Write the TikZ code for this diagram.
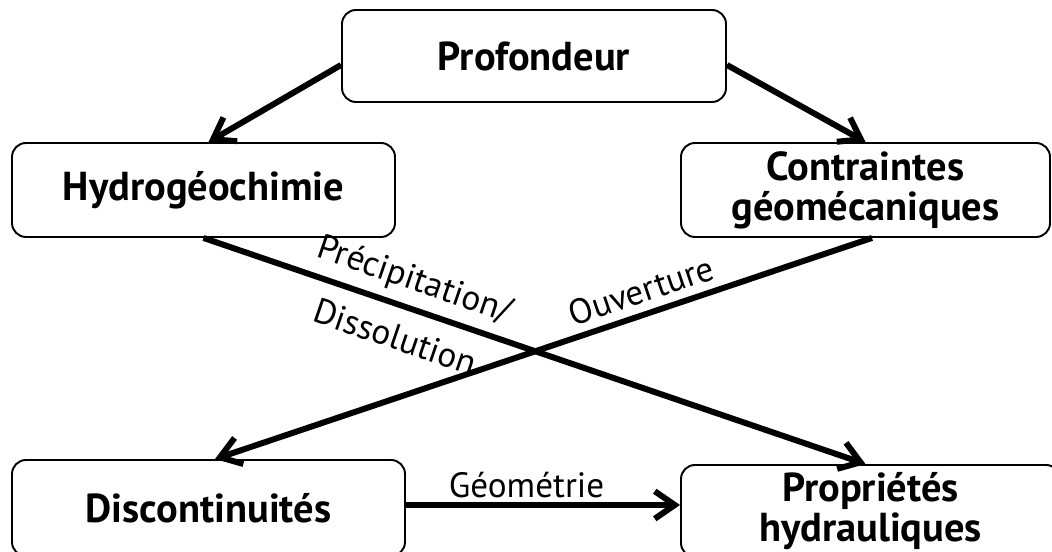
\documentclass[tikz,border=0pt]{standalone}
\usepackage{fontspec}
\setmainfont{PT Sans}
\usetikzlibrary{arrows.meta}

\begin{document}
\begin{tikzpicture}[
    box/.style={draw, rounded corners=0.28cm, line width=1.1pt, align=center, inner sep=0pt,
      font=\bfseries\fontsize{23}{22.7}\selectfont},
    link/.style={line width=3.4pt, -{Straight Barb[length=4mm,width=5.5mm]}},
    lbl/.style={font=\fontsize{20}{22}\selectfont, sloped, inner sep=1pt}
  ]
  \useasboundingbox (0,0) rectangle (21.04,11.04);
  \node[box, minimum width=7.68cm, minimum height=1.84cm] (prof) at (10.68,9.92) {Profondeur};
  \node[box, minimum width=7.66cm, minimum height=1.88cm] (hydro) at (4.07,7.24) {Hydrogéochimie};
  \node[box, minimum width=7.38cm, minimum height=1.88cm] (contr) at (17.31,7.24) {Contraintes\\géomécaniques};
  \node[box, minimum width=7.86cm, minimum height=1.92cm] (disc) at (4.17,0.88) {Discontinuités};
  \node[box, minimum width=7.58cm, minimum height=1.84cm] (prop) at (17.41,0.82) {Propriétés\\hydrauliques};
  \draw[link] ([yshift=-1.8mm]prof.west) -- ([xshift=1mm]hydro.north);
  \draw[link] ([yshift=-1.8mm]prof.east) -- (contr.north);
  \draw[link] (hydro.south) -- ([xshift=-1mm]prop.north)
    node[lbl, pos=0.305, above=0.13cm] {Précipitation/}
    node[lbl, pos=0.305, below=0.28cm] {Dissolution};
  \draw[link] ([xshift=1.3mm]contr.south) -- ([xshift=1.3mm]disc.north)
    node[lbl, pos=0.34, above=0.12cm] {Ouverture};
  \draw[link] ([yshift=0.6mm]disc.east) -- ([yshift=0.6mm]disc.east -| prop.west)
    node[lbl, pos=0.44, above=0.05cm] {Géométrie};
\end{tikzpicture}
\end{document}
